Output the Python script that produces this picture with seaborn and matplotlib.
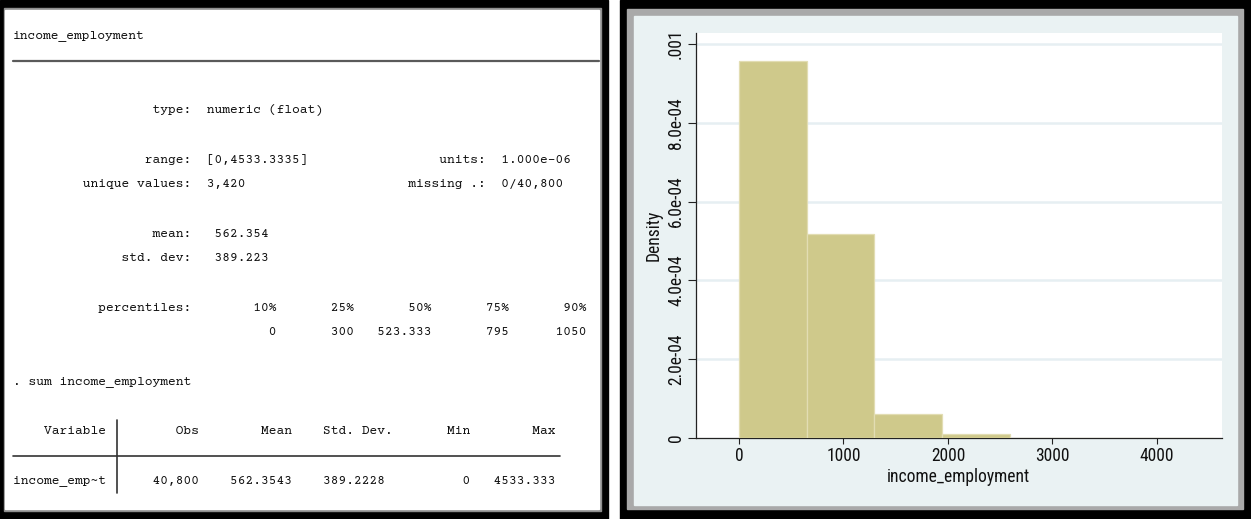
import numpy as np
import pandas as pd
import matplotlib
matplotlib.use("Agg")
import matplotlib.pyplot as plt
from matplotlib import font_manager
from matplotlib.patches import Rectangle
from matplotlib.lines import Line2D
import seaborn as sns

# ---------------- data ----------------
bin_edges = [0, 647.62, 1295.24, 1942.86, 2590.48, 3238.10, 3885.71, 4533.33]
densities = [0.000958, 0.000518, 0.0000600, 0.0000094, 0.0000012, 0.0000004, 0.0000002]
y_ticks = [0, 0.0002, 0.0004, 0.0006, 0.0008, 0.001]
y_tick_labels = ["0", "2.0e-04", "4.0e-04", "6.0e-04", "8.0e-04", ".001"]
x_ticks = [0, 1000, 2000, 3000, 4000]
x_tick_labels = ["0", "1000", "2000", "3000", "4000"]
x_label = "income_employment"
y_label = "Density"

percent_heads = ["10%", "25%", "50%", "75%", "90%"]
percent_vals = ["0", "300", "523.333", "795", "1050"]
sum_heads = ["Obs", "Mean", "Std. Dev.", "Min", "Max"]
sum_vals = ["40,800", "562.3543", "389.2228", "0", "4533.333"]

log_lines = {
    0: "income_employment",
    3: " " * 18 + "type:  numeric (float)",
    5: " " * 17 + "range:  [0,4533.3335]" + " " * 17 + "units:  1.000e-06",
    6: " " * 9 + "unique values:  3,420" + " " * 21 + "missing .:  0/40,800",
    8: " " * 18 + "mean:   562.354",
    9: " " * 14 + "std. dev:   389.223",
    11: " " * 11 + "percentiles:" + f"{percent_heads[0]:>11}" + "".join(f"{h:>10}" for h in percent_heads[1:]),
    12: " " * 23 + f"{percent_vals[0]:>11}" + "".join(f"{v:>10}" for v in percent_vals[1:]),
    14: ". sum income_employment",
    16: "    Variable  " + f"{sum_heads[0]:>10}" + f"{sum_heads[1]:>12}" + f"{sum_heads[2]:>13}" + f"{sum_heads[3]:>10}" + f"{sum_heads[4]:>11}",
    18: "income_emp~t  " + f"{sum_vals[0]:>10}" + f"{sum_vals[1]:>12}" + f"{sum_vals[2]:>12}" + f"{sum_vals[3]:>11}" + f"{sum_vals[4]:>11}",
}

# ---------------- fonts ----------------
avail = {f.name for f in font_manager.fontManager.ttflist}
def pick(cands, default):
    for c in cands:
        if c in avail:
            return c
    return default
narrow = pick(["Roboto Condensed", "Archivo Narrow", "PT Sans Narrow"], "DejaVu Sans")
mono = pick(["Courier Prime", "FreeMono", "Cutive Mono", "Liberation Mono"], "DejaVu Sans Mono")

sns.set_style("white")
plt.rcParams["font.family"] = [narrow, "DejaVu Sans"]

W, H = 1251, 519
fig = plt.figure(figsize=(W / 100, H / 100), dpi=100, facecolor="white")
renderer = fig.canvas.get_renderer()

def fit_size(text, family, target_px, base=20.0):
    t = fig.text(0, 0, text, family=family, fontsize=base)
    w = t.get_window_extent(renderer=renderer).width
    t.remove()
    return base * target_px / w

char_w = 7.7
fs_mono = fit_size("x" * 40, mono, 40 * char_w)
tick_fs = fit_size("income_employment", narrow, 143)

# background axes in pixel coordinates
bg = fig.add_axes([0, 0, 1, 1])
bg.set_xlim(0, W)
bg.set_ylim(H, 0)
bg.axis("off")

# left panel frame
bg.add_patch(Rectangle((0, 0), 608, 519, color="black", zorder=1))
bg.add_patch(Rectangle((4, 8), 597, 503, color="#8e8e8e", zorder=2))
bg.add_patch(Rectangle((5, 10), 594, 499, color="white", zorder=3))

# right panel frame
bg.add_patch(Rectangle((620, 0), 631, 519, color="black", zorder=1))
bg.add_patch(Rectangle((627, 9), 616, 500, color="#a9a9a9", zorder=2))
bg.add_patch(Rectangle((634, 16), 603, 489, color="#eaf2f3", zorder=3))

# left panel text (Stata results)
for k, s in log_lines.items():
    bg.text(13, 36 + 24.7 * k, s, family=mono, fontsize=fs_mono, color="#111111",
            ha="left", va="center", zorder=5)

# separators
bg.add_line(Line2D([13, 599], [61, 61], color="#5a5a5a", lw=1.6, zorder=5))
bg.add_line(Line2D([13, 13 + 71 * char_w], [36 + 24.7 * 17] * 2, color="#333333", lw=1.2, zorder=5))
bg.add_line(Line2D([13 + 13.5 * char_w] * 2, [420, 493], color="#333333", lw=1.2, zorder=5))

# ---------------- histogram ----------------
ax_l, ax_r, ax_t, ax_b = 696, 1222, 33, 438
ax = fig.add_axes([ax_l / W, 1 - ax_b / H, (ax_r - ax_l) / W, (ax_b - ax_t) / H])
ax.set_facecolor("white")

mids = [(a + b) / 2 for a, b in zip(bin_edges[:-1], bin_edges[1:])]
df = pd.DataFrame({"income_employment": mids, "w": densities})
sns.histplot(data=df, x="income_employment", weights="w", bins=bin_edges, stat="count",
             color="#cfc98b", edgecolor="#e2ddb3", linewidth=0.9, alpha=1, ax=ax, zorder=3)

ax.set_xlim(-411, 4622)
ax.set_ylim(0, 0.001028)
ax.set_yticks(y_ticks)
ax.set_yticklabels(y_tick_labels)
ax.set_xticks(x_ticks)
ax.set_xticklabels(x_tick_labels)

for yv in y_ticks[1:]:
    ax.axhline(yv, color="#e6eff2", lw=1.8, zorder=1)

for side in ["top", "right"]:
    ax.spines[side].set_visible(False)
for side in ["left", "bottom"]:
    ax.spines[side].set_color("#222222")
    ax.spines[side].set_linewidth(0.9)

ax.tick_params(axis="y", direction="out", length=5.8, width=0.8, color="#222222",
               pad=2, labelsize=tick_fs, labelcolor="#111111", left=True)
ax.tick_params(axis="x", direction="out", length=4.5, width=0.8, color="#222222",
               pad=2.2, labelsize=tick_fs, labelcolor="#111111", bottom=True)
for lab in ax.get_yticklabels():
    lab.set_rotation(90)
    lab.set_va("center")

ax.set_xlabel(x_label, fontsize=tick_fs, color="#111111")
ax.set_ylabel(y_label, fontsize=tick_fs, color="#111111")
ax.xaxis.set_label_coords(0.5, -0.073)
ax.yaxis.set_label_coords((663 - ax_l) / (ax_r - ax_l), 0.5)
ax.grid(False)

fig.savefig("out.png", dpi=100, facecolor="white")
